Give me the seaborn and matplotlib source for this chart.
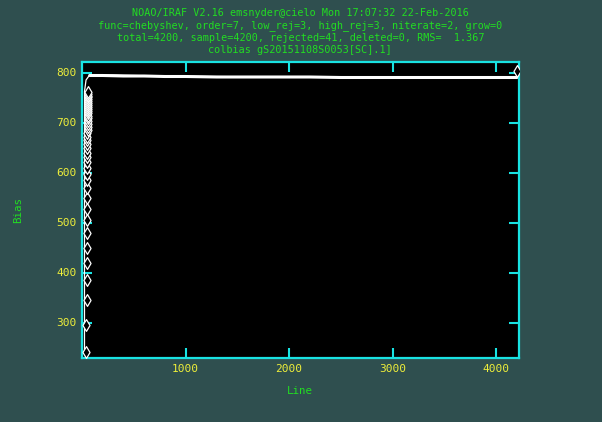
import matplotlib
matplotlib.use("Agg")
import matplotlib.pyplot as plt
import seaborn as sns
import pandas as pd

# ---- values ----
title_lines = [
    "NOAO/IRAF V2.16 emsnyder@cielo Mon 17:07:32 22-Feb-2016",
    "func=chebyshev, order=7, low_rej=3, high_rej=3, niterate=2, grow=0",
    "total=4200, sample=4200, rejected=41, deleted=0, RMS=  1.367",
    "colbias gS20151108S0053[SC].1]",
]

# rejected points at the start of the overscan (diamonds)
rej_line = [44, 44, 45, 45, 46, 46, 47, 47, 48, 48, 49, 49, 50, 50, 51, 51,
            52, 52, 53, 53, 54, 54, 55, 55, 56, 56, 57, 57, 58, 58, 59, 59,
            60, 60, 61, 61, 62, 62, 63, 63]
rej_bias = [242, 295, 345, 385, 420, 449, 479, 505, 527, 549, 569, 585,
            598, 610, 621, 631, 640, 649, 657, 665, 672, 679, 686, 692,
            698, 704, 709, 714, 719, 724, 728, 732, 736, 740, 744, 748,
            751, 754, 757, 761]
# one rejected point at the far end
rej_end_line = [4200]
rej_end_bias = [804]

# trace left of the diamonds
trace_line = [25, 25, 40, 75]
trace_bias = [244, 762, 785, 795]

# accepted data (dense band of points)
data_line = [75, 200, 400, 600, 800, 1000, 1300, 1600, 1900, 2200, 2500,
             2800, 3100, 3400, 3700, 4000, 4200]
data_bias = [794, 794, 793, 793, 792, 792, 791, 791, 791, 791, 790,
             790, 790, 790, 790, 790, 790]

# fitted chebyshev curve
fit_line = [75, 100, 300, 700, 1200, 2000, 3000, 4000, 4200]
fit_bias = [795, 795, 795, 793, 792, 791, 790, 790, 790]

bg = "#2f4f4f"
cyan = "#19e3e3"
yellow = "#eeee3a"
green = "#22dd22"
mono = ["DejaVu Sans Mono"]

sns.set_style("dark", {"axes.facecolor": "black", "figure.facecolor": bg})
plt.rcParams["font.family"] = mono

fig = plt.figure(figsize=(6.02, 4.22), dpi=100)
ax = fig.add_axes([82 / 602, 1 - 358 / 422, (518.6 - 82) / 602, (358 - 62) / 422])
ax.set_facecolor("black")

df_data = pd.DataFrame({"Line": data_line, "Bias": data_bias})
df_fit = pd.DataFrame({"Line": fit_line, "Bias": fit_bias})
df_rej = pd.DataFrame({"Line": rej_line + rej_end_line, "Bias": rej_bias + rej_end_bias})

sns.lineplot(x=trace_line, y=trace_bias, ax=ax, color="white", lw=0.9,
             estimator=None, sort=False)
sns.lineplot(data=df_data, x="Line", y="Bias", ax=ax, color="white", lw=2.2,
             estimator=None, sort=False)
sns.lineplot(data=df_fit, x="Line", y="Bias", ax=ax, color="white", lw=0.9,
             estimator=None, sort=False)
sns.scatterplot(data=df_rej, x="Line", y="Bias", ax=ax, marker="d", s=36,
                facecolor="black", edgecolor="white", linewidth=0.9, zorder=5)

ax.set_xlim(1, 4215)
ax.set_ylim(229, 821)
ax.set_xticks([1000, 2000, 3000, 4000])
ax.set_yticks([300, 400, 500, 600, 700, 800])
ax.grid(False)

for s in ax.spines.values():
    s.set_color(cyan)
    s.set_linewidth(1.6)
    s.set_visible(True)
ax.tick_params(direction="in", length=7.5, width=1.5, color=cyan,
               top=True, right=True, bottom=True, left=True,
               labelcolor=yellow, labelsize=8, pad=4)

ax.set_xlabel("Line", color=green, fontsize=7.8, labelpad=9)
ax.set_ylabel("Bias", color=green, fontsize=7.8, labelpad=24)

for i, t in enumerate(title_lines):
    fig.text(300.3 / 602, 1 - (12.5 + 12.6 * i) / 422, t, color=green,
             fontsize=7.3, ha="center", va="center", family=mono)

fig.savefig("out.png", dpi=100, facecolor=bg)
